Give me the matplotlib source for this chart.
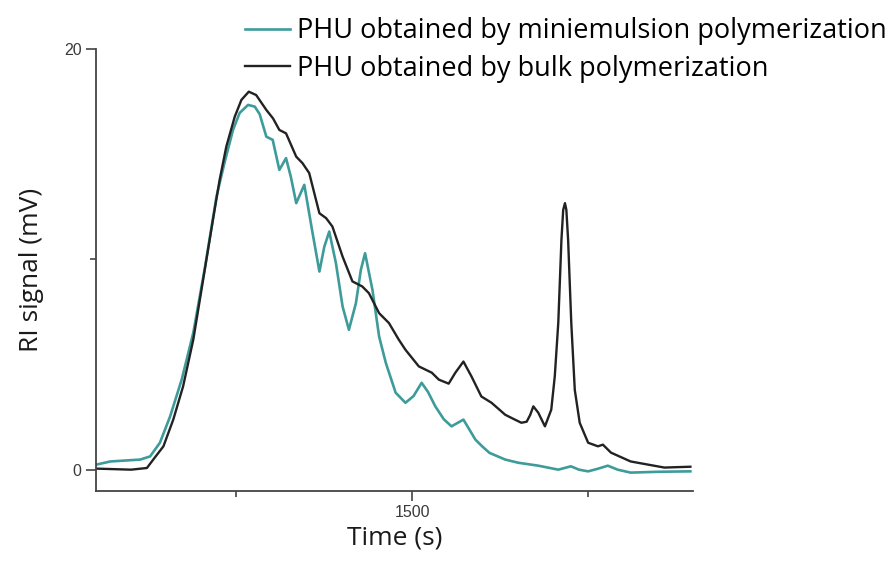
import matplotlib.pyplot as plt
import numpy as np

# miniemulsion PHU trace (time in s, RI signal in mV)
t_mini = [601, 641, 726, 754, 782, 811, 844, 877, 910, 943, 966, 990, 1009, 1033,
          1052, 1066, 1085, 1103, 1122, 1141, 1155, 1170, 1193, 1215, 1236, 1250, 1264,
          1283, 1302, 1320, 1340, 1354, 1366, 1387, 1406, 1425, 1453, 1481, 1504, 1527,
          1545, 1566, 1590, 1612, 1646, 1680, 1700, 1720, 1765, 1802, 1859, 1916, 1952,
          1975, 2001, 2030, 2057, 2085, 2122, 2200, 2292]
s_mini = [0.24, 0.39, 0.48, 0.63, 1.28, 2.53, 4.28, 6.51, 9.6, 12.98, 14.6, 16.15, 16.96, 17.34,
          17.26, 16.9, 15.83, 15.68, 14.25, 14.81, 13.9, 12.67, 13.54, 11.4, 9.42, 10.6, 11.32,
          9.82, 7.76, 6.65, 7.92, 9.5, 10.29, 8.55, 6.33, 5.08, 3.66, 3.18, 3.5, 4.13,
          3.7, 3.01, 2.4, 2.06, 2.38, 1.43, 1.1, 0.8, 0.48, 0.33, 0.19, 0.0, 0.16,
          0.0, -0.08, 0.05, 0.19, 0.0, -0.14, -0.1, -0.08]

# bulk PHU trace
t_bulk = [601, 700, 745, 763, 792, 820, 848, 877, 905, 933, 952, 971, 995, 1014, 1035,
          1056, 1085, 1104, 1122, 1141, 1170, 1188, 1207, 1236, 1255, 1273, 1302, 1330,
          1358, 1377, 1406, 1434, 1462, 1481, 1519, 1556, 1576, 1604, 1623, 1646,
          1669, 1697, 1726, 1765, 1790, 1811, 1826, 1836, 1845, 1859, 1878, 1896, 1906,
          1916, 1925, 1930, 1935, 1939, 1944, 1953, 1963, 1977, 2001, 2029, 2043, 2066,
          2122, 2218, 2292]
s_bulk = [0.05, 0.0, 0.08, 0.48, 1.11, 2.38, 3.96, 6.18, 9.03, 11.88, 13.78, 15.36, 16.78, 17.58, 17.97,
          17.81, 17.1, 16.7, 16.15, 15.99, 14.88, 14.57, 14.10, 12.19, 11.96, 11.56, 10.13, 8.95,
          8.71, 8.39, 7.44, 6.97, 6.18, 5.70, 4.91, 4.61, 4.28, 4.09, 4.61, 5.14,
          4.43, 3.48, 3.18, 2.61, 2.4, 2.23, 2.28, 2.6, 3.01, 2.71, 2.06, 2.85, 4.43,
          6.98, 10.93, 12.35, 12.67, 12.35, 10.93, 6.98, 3.79, 2.23, 1.28, 1.11, 1.19, 0.81,
          0.39, 0.10, 0.14]

labels = ['PHU obtained by miniemulsion polymerization', 'PHU obtained by bulk polymerization']
teal = '#3d9c9a'
dark = '#222222'

fig = plt.figure(figsize=(8.92, 5.61), dpi=100)
ax = fig.add_axes([0.1076, 0.1253, 0.6695, 0.7874])

l1, = ax.plot(t_mini, s_mini, color=teal, lw=1.9, label=labels[0])
l2, = ax.plot(t_bulk, s_bulk, color=dark, lw=1.7, label=labels[1])

ax.set_xlim(600, 2300)
ax.set_ylim(-1, 20)
ax.spines['top'].set_visible(False)
ax.spines['right'].set_visible(False)
for sp in ['left', 'bottom']:
    ax.spines[sp].set_color('#444444')
    ax.spines[sp].set_linewidth(1.3)

ax.set_xticks([1500])
ax.set_xticks([1000, 2000], minor=True)
ax.set_yticks([0, 20])
ax.set_yticks([10], minor=True)
ax.tick_params(which='major', length=7, width=1.2, color='#444444', labelsize=11.5,
               labelcolor='#3a3a3a')
ax.tick_params(which='minor', length=4, width=1.2, color='#444444')
for lab in ax.get_xticklabels() + ax.get_yticklabels():
    lab.set_family('Liberation Sans')

ax.set_xlabel('Time (s)', fontsize=19, family='Open Sans', color='#1a1a1a', labelpad=4)
ax.set_ylabel('RI signal (mV)', fontsize=19, family='Open Sans', color='#1a1a1a', labelpad=14)

fig.legend(handles=[l1, l2], loc='upper left', bbox_to_anchor=(245 / 892, 1 - 17 / 561),
           frameon=False, borderpad=0, borderaxespad=0, handlelength=1.65,
           handletextpad=0.26, labelspacing=0.36,
           prop={'family': 'Open Sans', 'size': 19.5})

plt.savefig('out.png', dpi=100)
